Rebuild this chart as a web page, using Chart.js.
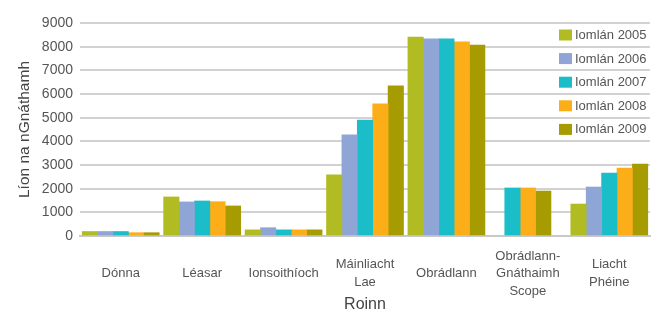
<!DOCTYPE html>
<html>
<head>
<meta charset="utf-8">
<script src="https://cdn.jsdelivr.net/npm/chart.js@4/dist/chart.umd.min.js"></script>
<style>
  html, body { margin: 0; padding: 0; background: #ffffff; }
  #wrap { width: 662px; height: 311px; position: relative; }
</style>
</head>
<body>
<div id="wrap"><canvas id="c"></canvas></div>
<script>
// ---- data ----
const categories = [
  "Dónna",
  "Léasar",
  "Ionsoithíoch",
  ["Máinliacht", "Lae"],
  "Obrádlann",
  ["Obrádlann-", "Gnáthaimh", "Scope"],
  ["Liacht", "Phéine"]
];
const seriesLabels = ["Iomlán 2005", "Iomlán 2006", "Iomlán 2007", "Iomlán 2008", "Iomlán 2009"];
const total2005 = [190, 1650, 260, 2580, 8410, null, 1350];
const total2006 = [190, 1440, 350, 4270, 8330, null, 2070];
const total2007 = [190, 1480, 260, 4900, 8330, 2030, 2660];
const total2008 = [140, 1450, 260, 5580, 8200, 2030, 2870];
const total2009 = [140, 1270, 260, 6340, 8070, 1900, 3040];
const yTicks = [0, 1000, 2000, 3000, 4000, 5000, 6000, 7000, 8000, 9000];
const yTitle = "Líon na nGnáthamh";
const xTitle = "Roinn";

// ---- styles ----
const colors = ["#b1bc22", "#8ea5d6", "#1bbec8", "#fcae18", "#a69b00"];
const seriesValues = [total2005, total2006, total2007, total2008, total2009];
const FONT = "'Liberation Sans', Arial, Helvetica, sans-serif";

const datasets = seriesValues.map((vals, i) => ({
  label: seriesLabels[i],
  data: vals,
  backgroundColor: colors[i],
  borderWidth: 0,
  barThickness: 15.4,
  skipNull: true
}));

const innerLegend = {
  id: 'innerLegend',
  afterDatasetsDraw(chart) {
    const ctx = chart.ctx;
    const area = chart.chartArea;
    const x0 = area.right - 91;
    const y0 = area.top + 12;
    const step = 23.6;
    ctx.save();
    ctx.font = "13px " + FONT;
    ctx.textBaseline = 'middle';
    ctx.textAlign = 'left';
    chart.data.datasets.forEach((ds, i) => {
      const y = y0 + i * step;
      ctx.fillStyle = ds.backgroundColor;
      ctx.fillRect(x0, y - 5.5, 13, 11);
      ctx.fillStyle = '#555555';
      ctx.fillText(ds.label, x0 + 16, y + 0.5);
    });
    ctx.restore();
  }
};

new Chart(document.getElementById('c'), {
  type: 'bar',
  data: { labels: categories, datasets: datasets },
  plugins: [innerLegend],
  options: {
    responsive: true,
    maintainAspectRatio: false,
    animation: false,
    layout: { padding: { left: 0, right: 12, top: 23, bottom: 0 } },
    plugins: {
      legend: { display: false },
      tooltip: { enabled: false }
    },
    scales: {
      x: {
        offset: true,
        grid: { display: false, drawTicks: false },
        border: { display: true, color: '#c9c9c9', width: 2 },
        ticks: {
          color: '#555555',
          font: { family: FONT, size: 13, lineHeight: 1.35 },
          padding: 20,
          maxRotation: 0,
          autoSkip: false,
          crossAlign: 'center'
        },
        title: {
          display: true,
          text: xTitle,
          color: '#444444',
          font: { family: FONT, size: 16, lineHeight: 1 },
          padding: { top: 0, bottom: -2 }
        },
        afterFit(s) { s.height = 75; }
      },
      y: {
        min: 0,
        max: 9000,
        afterBuildTicks(s) { s.ticks = yTicks.map(v => ({ value: v })); },
        grid: { color: '#d2d2d2', lineWidth: 2, drawTicks: false },
        border: { display: false },
        ticks: {
          color: '#555555',
          font: { family: FONT, size: 14 },
          padding: 7,
          callback: (v) => String(v)
        },
        title: {
          display: true,
          text: yTitle,
          color: '#444444',
          font: { family: FONT, size: 15.5 },
          padding: { top: 15, bottom: 0 }
        },
        afterFit(s) { s.width = 80; }
      }
    }
  }
});
</script>
</body>
</html>
